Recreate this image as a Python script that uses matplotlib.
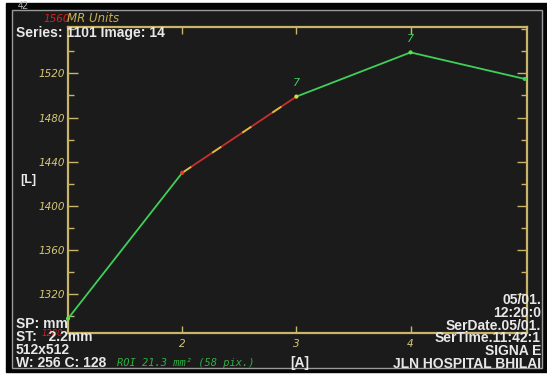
import matplotlib.pyplot as plt
from matplotlib.patches import Rectangle
from matplotlib.ticker import MultipleLocator

# ROI signal intensity per image
image_idx = [1, 2, 3, 4, 5]
signal = [1298, 1430, 1499, 1539, 1515]
seg_colors = ["#3fcf5a", "#c8302c", "#3fcf5a", "#3fcf5a"]
point_colors = ["#5ee04a", "#e0402c", "#c8e040", "#5ee04a", "#3fcf5a"]
point_tags = {3: "7", 4: "7"}

x_ticks = [2, 3, 4]
y_ticks = [1320, 1360, 1400, 1440, 1480, 1520]

top_left = ["Series: 1101 Image: 14"]
bottom_left = ["SP: mm", "ST:   2.2mm", "512x512", "W: 256 C: 128"]
bottom_right = ["05/01.", "12:20:0", "SerDate.05/01.", "SerTime.11:42:1",
                "SIGNA E", "JLN HOSPITAL BHILAI"]

W, H = 547, 374
axis_col = "#c9b468"
label_col = "#d8c878"
txt_col = "#e8e8e8"

fig = plt.figure(figsize=(W / 100, H / 100), dpi=100)
fig.patch.set_facecolor("white")

# monitor frame and dark screen
fig.patches.append(Rectangle((6 / W, 0.005), 541 / W, 1 - 3 / H - 0.005,
                             transform=fig.transFigure, color="#050505", zorder=-3))
fig.patches.append(Rectangle((12 / W, 6 / H), 530 / W, 1 - 16 / H,
                             transform=fig.transFigure, facecolor="#1b1b1b",
                             edgecolor="#9a9a9a", lw=1.0, zorder=-2))

ax = fig.add_axes([68 / W, 41 / H, 459 / W, 306 / H])
ax.set_facecolor("none")
ax.set_zorder(1)

for i in range(len(image_idx) - 1):
    xs = image_idx[i:i + 2]
    ys = signal[i:i + 2]
    ax.plot(xs, ys, color=seg_colors[i], lw=1.3, solid_capstyle="round", zorder=3)
    if seg_colors[i] != "#3fcf5a":
        ax.plot(xs, ys, color="#d8c040", lw=1.3, dashes=(6, 14), zorder=4)
ax.scatter(image_idx, signal, s=9, c=point_colors, zorder=5, linewidths=0, clip_on=False)
for k, tag in point_tags.items():
    ax.annotate(tag, (k, signal[k - 1]), xytext=(0, 6), textcoords="offset points",
                ha="center", va="bottom", color="#3fcf5a", fontsize=8, style="italic")

ax.set_xlim(1, 5.02)
ax.set_ylim(1285, 1562)
ax.set_xticks(x_ticks)
ax.set_yticks(y_ticks)
ax.yaxis.set_minor_locator(MultipleLocator(20))
ax.tick_params(axis="both", which="both", direction="in", colors=axis_col,
               top=True, right=True, labelcolor=label_col)
ax.tick_params(axis="y", which="major", length=7, width=1, pad=2, labelsize=7.5)
ax.tick_params(axis="y", which="minor", length=4, width=1)
ax.tick_params(axis="x", which="major", length=5, width=1, pad=4, labelsize=7.5)
for lbl in ax.get_xticklabels() + ax.get_yticklabels():
    lbl.set_style("italic")
for sp in ax.spines.values():
    sp.set_color(axis_col)
    sp.set_linewidth(1.6)

# overlay annotations
def put(x, y, s, **kw):
    fig.text(x / W, 1 - y / H, s, va="center", zorder=6, **kw)

put(18, 6, "42", color="#bbbbbb", fontsize=7, family="Liberation Sans")
put(43, 19, "1560", color="#d82020", fontsize=7.5, style="italic")
put(67, 19, "MR Units", color="#c8b050", fontsize=8.5, style="italic")
put(16, 33, top_left[0], color=txt_col, fontsize=10, weight="bold",
    family="Liberation Sans")
put(20, 180, "[L]", color=txt_col, fontsize=9, weight="bold", family="Liberation Sans")
put(42, 333, "1280", color="#d82020", fontsize=6, style="italic")
for i, s in enumerate(bottom_left):
    put(16, 324 + 13 * i, s, color=txt_col, fontsize=10, weight="bold",
        family="Liberation Sans")
put(117, 363, "ROI 21.3 mm² (58 pix.)", color="#2fb040", fontsize=7.5,
    style="italic", family="DejaVu Sans Mono")
put(290, 363, "[A]", color=txt_col, fontsize=10, weight="bold", family="Liberation Sans")
for i, s in enumerate(bottom_right):
    put(541, 300 + 12.8 * i, s, color=txt_col, fontsize=10, weight="bold",
        family="Liberation Sans", ha="right")

fig.savefig("out.png", dpi=100, facecolor=fig.get_facecolor())
